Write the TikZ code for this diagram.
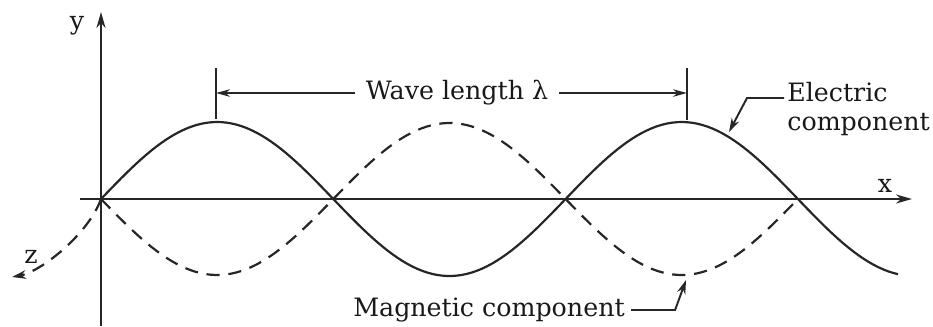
\documentclass[tikz,border=0pt]{standalone}
\usepackage{fontspec}
\setmainfont{DejaVu Serif}
\usepackage{tikz}
\usetikzlibrary{arrows.meta,calc}
\tikzset{
  axisline/.style={draw=black!85, line width=1.25pt, -{Stealth[length=3.2mm,width=1.8mm]}},
  electricwave/.style={draw=black!85, line width=1.25pt},
  magneticwave/.style={draw=black!85, line width=1.25pt, dash pattern=on 7.5pt off 5pt},
  zaxisline/.style={draw=black!85, line width=1.25pt, dash pattern=on 7.5pt off 5pt,
    -{Stealth[length=2.8mm,width=1.7mm]}},
  tickline/.style={draw=black!85, line width=1.25pt},
  dimarrow/.style={draw=black!85, line width=1.1pt, -{Stealth[length=2.8mm,width=1.5mm]}},
  leaderarrow/.style={draw=black!85, line width=1.1pt, -{Stealth[length=2.8mm,width=1.7mm]}},
  axislabel/.style={font=\fontsize{14.4}{16}\selectfont, text=black!90, inner sep=0pt},
  wavelabel/.style={font=\fontsize{14.4}{16.4}\selectfont, text=black!90, align=left,
    inner sep=0pt},
}

\begin{document}
\begin{tikzpicture}[x=0.02cm, y=-0.02cm]
  \useasboundingbox (0,0) rectangle (933,326);

  % Axes
  \coordinate (origin) at (101,199);
  \coordinate (xstart) at (80,199);
  \coordinate (xend) at (912,199);
  \coordinate (ystart) at (101,326);
  \coordinate (yend) at (101,12);
  \coordinate (zend) at (12,277);
  \draw[axisline] (xstart) -- (xend);
  \draw[axisline] (ystart) -- (yend);
  \draw[zaxisline] (origin) .. controls (88,235) and (40,272) .. (zend);
  \node[axislabel] (xlabel) at (885,186) {x};
  \node[axislabel] (ylabel) at (77,26) {y};
  \node[axislabel] (zlabel) at (31,257) {z};

  % Electric (solid) and magnetic (dashed) components
  \draw[electricwave] plot[domain=101:898, samples=160]
    (\x, {199-77*sin((\x-101)/232.3*180)});
  \draw[magneticwave] plot[domain=101:798, samples=140]
    (\x, {199+76*sin((\x-101)/232.3*180)});

  % Wave length marker
  \coordinate (peakA) at (216,119);
  \coordinate (peakB) at (687,120);
  \coordinate (tickA) at (216,68);
  \coordinate (tickB) at (687,68);
  \draw[tickline] (peakA) -- (tickA);
  \draw[tickline] (peakB) -- (tickB);
  \node[wavelabel, inner xsep=6pt] (wavelen) at (457,93) {Wave length λ};
  \draw[dimarrow] (wavelen.west) -- (wavelen.west -| peakA);
  \draw[dimarrow] (wavelen.east) -- (wavelen.east -| peakB);

  % Component labels
  \coordinate (elecTip) at (729,132);
  \coordinate (magTip) at (686,280);
  \node[wavelabel, anchor=north west] (elecLabel) at (787,82) {Electric\\component};
  \node[wavelabel] (magLabel) at (489,310) {Magnetic component};
  \draw[leaderarrow] ($(elecLabel.north west)+(-3,16)$) -- ++(-37,0) -- (elecTip);
  \draw[leaderarrow] ($(magLabel.east)+(6,0)$) -- ++(44,0) -- (magTip);
\end{tikzpicture}
\end{document}
